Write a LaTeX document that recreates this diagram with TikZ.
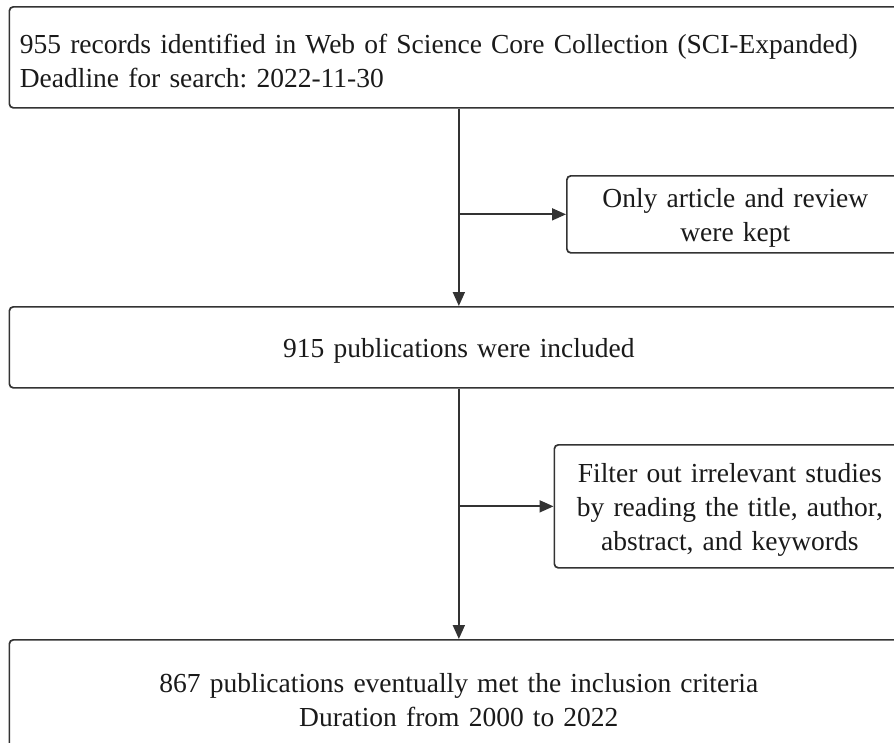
\documentclass[tikz,border=0pt]{standalone}
\usepackage{fontspec}
\setmainfont{Liberation Serif}
\usetikzlibrary{arrows.meta}
\definecolor{linecol}{HTML}{333333}
\definecolor{txtcol}{HTML}{1A1A1A}
\frenchspacing
\newcommand\topstrut{\rule{0pt}{26pt}}
\begin{document}
\begin{tikzpicture}[x=1pt,y=-1pt,
  box/.style={draw=linecol, line width=1.7pt, rounded corners=4pt, inner ysep=0pt,
    text=txtcol, font=\fontsize{27.5}{34.3}\selectfont, anchor=north west},
  wide/.style={box, minimum width=899pt, text width=878pt, inner xsep=10.5pt},
  side/.style={box, align=center, inner xsep=4pt},
  conn/.style={draw=linecol, line width=1.8pt, -{Triangle[length=14pt,width=12pt]}}
]
\useasboundingbox (0,0) rectangle (894,742);
\clip (0,0) rectangle (894,742);
\fill[white] (0,0) rectangle (894,742);

\node[wide, align=left, minimum height=101pt] (b1) at (8.5,6)
  {\topstrut 955 records identified in Web of Science Core Collection (SCI-Expanded)\\Deadline for search: 2022-11-30};
\node[side, minimum width=337pt, minimum height=77pt, text width=329pt] (b2) at (566,175)
  {\topstrut Only article and review\\were kept};
\node[wide, align=center, minimum height=81pt] (b3) at (8.5,306)
  {\topstrut 915 publications were included};
\node[side, minimum width=351pt, minimum height=123pt, text width=343pt] (b4) at (553.5,444)
  {\topstrut Filter out irrelevant studies\\by reading the title, author,\\abstract, and keywords};
\node[wide, align=center, minimum height=114pt] (b5) at (8.5,639)
  {\topstrut 867 publications eventually met the inclusion criteria\\Duration from 2000 to 2022};

\coordinate (j1) at (b1.south |- b2.west);
\coordinate (j2) at (b3.south |- b4.west);
\draw[conn] (b1.south) -- (b3.north);
\draw[conn] (b3.south) -- (b5.north);
\draw[conn] (j1) -- (b2.west);
\draw[conn] (j2) -- (b4.west);
\end{tikzpicture}
\end{document}
